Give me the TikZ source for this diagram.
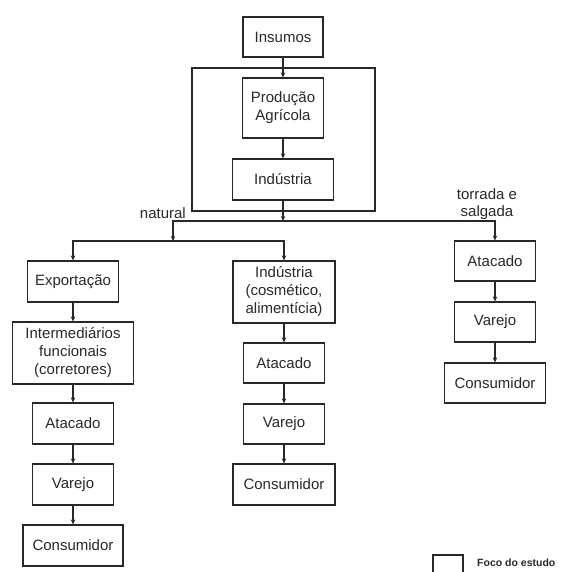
\documentclass[tikz,border=0pt]{standalone}
\usepackage{fontspec}
\setmainfont{Liberation Sans}
\usetikzlibrary{arrows.meta}
\definecolor{ink}{RGB}{40,40,40}
\begin{document}
\begin{tikzpicture}[x=1pt,y=-1pt,
  box/.style={draw=ink,line width=1.2pt,text=ink,inner sep=0pt,align=center,
    font=\fontsize{15}{18}\selectfont,minimum height=40pt},
  conn/.style={draw=ink,line width=1.2pt},
  arr/.style={conn,-{Stealth[length=5pt,width=4.5pt]}},
  lbl/.style={text=ink,inner sep=0pt,align=center,font=\fontsize{15}{17}\selectfont}]
\useasboundingbox (0,0) rectangle (562,572);
% frame
\draw[conn] (192,68) rectangle (375,211);
% top chain
\node[box,minimum width=80pt] (ins) at (283,37) {Insumos};
\node[box,minimum width=81pt,minimum height=60pt] (prod) at (283,108) {Produção\\Agrícola};
\node[box,minimum width=101pt,minimum height=41pt] (ind) at (283,179.5) {Indústria};
% left column
\node[box,minimum width=91pt,minimum height=41pt] (exp) at (73,281.5) {Exportação};
\node[box,minimum width=121pt,minimum height=62pt] (inter) at (73,353) {Intermediários\\funcionais\\(corretores)};
\node[box,minimum width=81pt,minimum height=41pt] (atL) at (73,423.5) {Atacado};
\node[box,minimum width=81pt,minimum height=41pt] (vaL) at (73,484.5) {Varejo};
\node[box,minimum width=100pt,minimum height=41pt] (coL) at (73,545.5) {Consumidor};
% middle column
\node[box,minimum width=102pt,minimum height=62pt] (indc) at (284,292) {Indústria\\(cosmético,\\alimentícia)};
\node[box,minimum width=81pt] (atM) at (284,363) {Atacado};
\node[box,minimum width=81pt] (vaM) at (284,424) {Varejo};
\node[box,minimum width=102pt,minimum height=41pt] (coM) at (284,484.5) {Consumidor};
% right column
\node[box,minimum width=81pt] (atR) at (495,261) {Atacado};
\node[box,minimum width=81pt] (vaR) at (495,322) {Varejo};
\node[box,minimum width=101pt] (coR) at (495,383) {Consumidor};
% junctions
\coordinate (j1) at (283,221);
\coordinate (jL) at (173,221);
\coordinate (j2) at (173,241);
% connectors
\draw[arr] (ins.south) -- (prod.north);
\draw[arr] (prod.south) -- (ind.north);
\draw[arr] (ind.south) -- (j1);
\draw[conn] (jL) -- (j1);
\draw[arr] (j1) -| (atR.north);
\draw[arr] (j1) -| (j2);
\draw[arr] (j2) -| (exp.north);
\draw[arr] (j2) -| (indc.north);
\draw[arr] (exp.south) -- (inter.north);
\draw[arr] (inter.south) -- (atL.north);
\draw[arr] (atL.south) -- (vaL.north);
\draw[arr] (vaL.south) -- (coL.north);
\draw[arr] (indc.south) -- (atM.north);
\draw[arr] (atM.south) -- (vaM.north);
\draw[arr] (vaM.south) -- (coM.north);
\draw[arr] (atR.south) -- (vaR.north);
\draw[arr] (vaR.south) -- (coR.north);
% labels
\node[lbl,anchor=south east] (nat) at (186,219) {natural};
\node[lbl] (tor) at (487,204) {torrada e\\salgada};
% legend
\draw[conn] (433,573) -- (433,555) -- (463,555) -- (463,573);
\node[text=ink,inner sep=0pt,anchor=west,font=\bfseries\fontsize{10.5}{12}\selectfont] (foco) at (477,563) {Foco do estudo};
\end{tikzpicture}
\end{document}
